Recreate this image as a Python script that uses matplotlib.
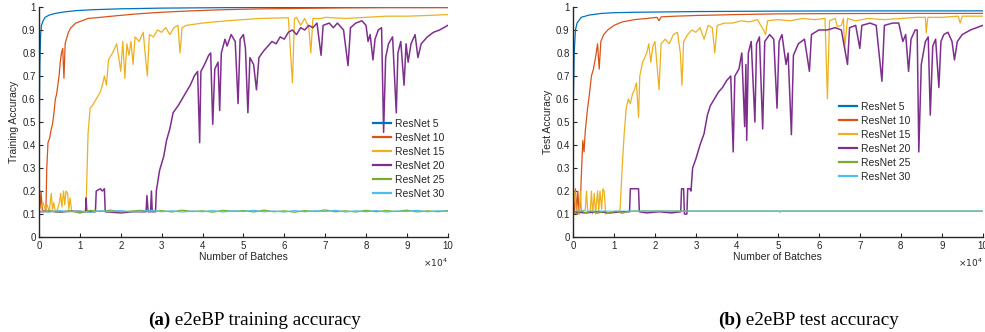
import numpy as np
import matplotlib
matplotlib.use("Agg")
import matplotlib.pyplot as plt

# x in units of 1e4 batches, y = accuracy
train_r5 = np.array([[0, 0.24], [0.01, 0.55], [0.02, 0.75], [0.04, 0.88], [0.06, 0.92], [0.1, 0.94],
                     [0.15, 0.955], [0.25, 0.965], [0.4, 0.972], [0.6, 0.978], [0.9, 0.984], [1.3, 0.988],
                     [2.0, 0.992], [3.0, 0.995], [4.5, 0.997], [6.0, 0.998], [8.0, 0.998], [10.0, 0.998]])

train_r10 = np.array([[0, 0.12], [0.03, 0.13], [0.05, 0.2], [0.08, 0.12], [0.12, 0.11], [0.17, 0.12],
                      [0.19, 0.3], [0.22, 0.41], [0.26, 0.43], [0.3, 0.47], [0.33, 0.49], [0.36, 0.53],
                      [0.4, 0.6], [0.43, 0.62], [0.46, 0.66], [0.49, 0.7], [0.52, 0.76], [0.55, 0.8],
                      [0.58, 0.82], [0.61, 0.69], [0.64, 0.84], [0.67, 0.86], [0.72, 0.89], [0.78, 0.91],
                      [0.9, 0.93], [1.05, 0.94], [1.2, 0.95], [1.5, 0.955], [1.9, 0.962], [2.4, 0.97],
                      [3.0, 0.977], [3.7, 0.983], [4.5, 0.988], [5.5, 0.992], [6.5, 0.994], [7.5, 0.996],
                      [8.5, 0.997], [10.0, 0.997]])

train_r15 = np.array([[0, 0.12], [0.1, 0.15], [0.15, 0.12], [0.2, 0.14], [0.25, 0.11], [0.3, 0.19],
                      [0.33, 0.12], [0.36, 0.15], [0.4, 0.11], [0.45, 0.12], [0.5, 0.15], [0.53, 0.19],
                      [0.56, 0.13], [0.6, 0.2], [0.63, 0.14], [0.66, 0.2], [0.7, 0.19], [0.73, 0.12],
                      [0.76, 0.17], [0.8, 0.11], [0.9, 0.11], [1.0, 0.11], [1.1, 0.11], [1.15, 0.12],
                      [1.2, 0.45], [1.25, 0.56], [1.3, 0.57], [1.4, 0.6], [1.5, 0.63], [1.55, 0.66],
                      [1.6, 0.7], [1.65, 0.66], [1.7, 0.77], [1.8, 0.8], [1.9, 0.84], [1.95, 0.78],
                      [2.0, 0.72], [2.05, 0.85], [2.1, 0.69], [2.15, 0.84], [2.2, 0.79], [2.25, 0.85],
                      [2.3, 0.75], [2.35, 0.87], [2.45, 0.85], [2.55, 0.89], [2.6, 0.79], [2.65, 0.7],
                      [2.7, 0.88], [2.8, 0.87], [2.9, 0.9], [3.0, 0.89], [3.1, 0.91], [3.2, 0.88],
                      [3.3, 0.91], [3.4, 0.92], [3.45, 0.8], [3.5, 0.91], [3.6, 0.92], [3.8, 0.925],
                      [4.0, 0.93], [4.3, 0.935], [4.6, 0.94], [5.0, 0.945], [5.4, 0.95], [5.8, 0.952],
                      [6.1, 0.953], [6.2, 0.67], [6.25, 0.95], [6.3, 0.955], [6.4, 0.92], [6.5, 0.95],
                      [6.6, 0.91], [6.65, 0.8], [6.7, 0.95], [6.9, 0.95], [7.0, 0.955], [7.5, 0.95],
                      [8.0, 0.955], [8.5, 0.96], [9.0, 0.96], [9.5, 0.963], [10.0, 0.967]])

train_r20 = np.array([[0, 0.11], [0.3, 0.112], [0.5, 0.108], [0.8, 0.113], [1.1, 0.11], [1.14, 0.11],
                      [1.15, 0.17], [1.17, 0.11], [1.38, 0.11], [1.4, 0.2], [1.5, 0.21], [1.55, 0.2],
                      [1.6, 0.21], [1.62, 0.11], [2.0, 0.105], [2.3, 0.11], [2.62, 0.11], [2.64, 0.18],
                      [2.67, 0.11], [2.73, 0.11], [2.75, 0.2], [2.77, 0.11], [2.85, 0.11], [2.87, 0.2],
                      [2.95, 0.29], [3.05, 0.35], [3.12, 0.42], [3.2, 0.47], [3.28, 0.54], [3.4, 0.57],
                      [3.5, 0.6], [3.6, 0.63], [3.7, 0.66], [3.8, 0.7], [3.88, 0.72], [3.93, 0.41],
                      [3.96, 0.72], [4.05, 0.75], [4.15, 0.79], [4.2, 0.8], [4.25, 0.49], [4.3, 0.73],
                      [4.38, 0.76], [4.42, 0.55], [4.46, 0.8], [4.55, 0.86], [4.6, 0.83], [4.7, 0.88],
                      [4.8, 0.85], [4.87, 0.58], [4.92, 0.86], [5.0, 0.88], [5.05, 0.82], [5.11, 0.54],
                      [5.16, 0.78], [5.25, 0.75], [5.32, 0.64], [5.38, 0.78], [5.5, 0.81], [5.6, 0.83],
                      [5.7, 0.85], [5.8, 0.84], [5.9, 0.87], [6.0, 0.86], [6.1, 0.89], [6.2, 0.9],
                      [6.3, 0.88], [6.4, 0.91], [6.5, 0.9], [6.6, 0.92], [6.7, 0.91], [6.8, 0.93],
                      [6.9, 0.79], [6.95, 0.92], [7.1, 0.93], [7.2, 0.91], [7.3, 0.93], [7.45, 0.9],
                      [7.56, 0.745], [7.62, 0.91], [7.75, 0.93], [7.9, 0.94], [8.0, 0.92], [8.05, 0.85],
                      [8.1, 0.88], [8.17, 0.77], [8.22, 0.86], [8.3, 0.9], [8.38, 0.91], [8.43, 0.455],
                      [8.48, 0.78], [8.55, 0.84], [8.65, 0.87], [8.74, 0.54], [8.78, 0.8], [8.85, 0.85],
                      [8.93, 0.66], [8.98, 0.84], [9.03, 0.76], [9.1, 0.84], [9.2, 0.88], [9.27, 0.78],
                      [9.35, 0.84], [9.5, 0.87], [9.65, 0.89], [9.8, 0.9], [9.9, 0.91], [10.0, 0.92]])

noise_x = [0, 0.25, 0.5, 0.75, 1.0, 1.25, 1.5, 1.75, 2.0, 2.25, 2.5, 2.75, 3.0, 3.25, 3.5, 3.75,
           4.0, 4.25, 4.5, 4.75, 5.0, 5.25, 5.5, 5.75, 6.0, 6.25, 6.5, 6.75, 7.0, 7.25, 7.5, 7.75,
           8.0, 8.25, 8.5, 8.75, 9.0, 9.25, 9.5, 9.75, 10.0]
train_r25 = [0.11, 0.114, 0.108, 0.115, 0.104, 0.116, 0.111, 0.117, 0.109, 0.113, 0.116, 0.11,
             0.115, 0.109, 0.117, 0.111, 0.114, 0.108, 0.116, 0.112, 0.115, 0.109, 0.117, 0.11,
             0.114, 0.108, 0.115, 0.111, 0.118, 0.11, 0.114, 0.109, 0.116, 0.11, 0.115, 0.111,
             0.117, 0.109, 0.114, 0.11, 0.115]
train_r30 = [0.112, 0.109, 0.115, 0.11, 0.113, 0.108, 0.114, 0.111, 0.115, 0.109, 0.112, 0.116,
             0.11, 0.114, 0.109, 0.113, 0.11, 0.115, 0.109, 0.114, 0.111, 0.116, 0.11, 0.113,
             0.109, 0.115, 0.11, 0.114, 0.111, 0.116, 0.109, 0.114, 0.11, 0.115, 0.109, 0.113,
             0.111, 0.116, 0.11, 0.114, 0.112]

test_r5 = np.array([[0, 0.3], [0.01, 0.6], [0.03, 0.8], [0.06, 0.9], [0.1, 0.93], [0.2, 0.955],
                    [0.4, 0.965], [0.7, 0.972], [1.0, 0.975], [1.5, 0.977], [2.0, 0.978], [3.0, 0.98],
                    [4.0, 0.981], [5.0, 0.982], [7.0, 0.983], [8.0, 0.983], [10.0, 0.983]])

test_r10 = np.array([[0, 0.2], [0.03, 0.1], [0.06, 0.21], [0.09, 0.11], [0.12, 0.2], [0.15, 0.1],
                     [0.18, 0.14], [0.2, 0.25], [0.24, 0.42], [0.27, 0.37], [0.3, 0.46], [0.35, 0.55],
                     [0.4, 0.62], [0.45, 0.7], [0.5, 0.73], [0.55, 0.78], [0.6, 0.84], [0.64, 0.73],
                     [0.68, 0.85], [0.75, 0.88], [0.85, 0.9], [1.0, 0.92], [1.2, 0.935], [1.5, 0.945],
                     [1.8, 0.95], [2.05, 0.955], [2.1, 0.94], [2.15, 0.957], [2.5, 0.96], [3.0, 0.963],
                     [4.0, 0.967], [5.0, 0.97], [6.0, 0.971], [8.0, 0.972], [10.0, 0.972]])

test_r15 = np.array([[0, 0.11], [0.05, 0.2], [0.08, 0.11], [0.15, 0.1], [0.18, 0.2], [0.21, 0.11],
                     [0.3, 0.12], [0.33, 0.2], [0.36, 0.11], [0.42, 0.11], [0.45, 0.2], [0.48, 0.1],
                     [0.52, 0.19], [0.55, 0.1], [0.6, 0.2], [0.63, 0.11], [0.66, 0.2], [0.7, 0.12],
                     [0.73, 0.21], [0.76, 0.2], [0.8, 0.1], [0.9, 0.11], [1.1, 0.11], [1.15, 0.12],
                     [1.2, 0.3], [1.25, 0.45], [1.3, 0.56], [1.35, 0.6], [1.4, 0.58], [1.45, 0.62],
                     [1.5, 0.64], [1.55, 0.67], [1.6, 0.52], [1.63, 0.7], [1.7, 0.76], [1.8, 0.8],
                     [1.85, 0.84], [1.9, 0.76], [1.95, 0.83], [2.0, 0.85], [2.05, 0.75], [2.1, 0.64],
                     [2.15, 0.84], [2.25, 0.86], [2.35, 0.84], [2.45, 0.88], [2.55, 0.89], [2.62, 0.8],
                     [2.66, 0.66], [2.7, 0.85], [2.8, 0.88], [2.9, 0.9], [3.0, 0.89], [3.1, 0.91],
                     [3.2, 0.86], [3.3, 0.92], [3.4, 0.91], [3.46, 0.8], [3.52, 0.92], [3.7, 0.93],
                     [3.9, 0.93], [4.1, 0.94], [4.3, 0.935], [4.5, 0.945], [4.65, 0.9], [4.7, 0.88],
                     [4.75, 0.94], [5.0, 0.945], [5.3, 0.94], [5.6, 0.95], [5.9, 0.945], [6.15, 0.95],
                     [6.21, 0.6], [6.26, 0.94], [6.4, 0.95], [6.45, 0.915], [6.55, 0.92], [6.6, 0.95],
                     [6.63, 0.82], [6.7, 0.95], [6.9, 0.94], [7.2, 0.95], [7.6, 0.945], [8.0, 0.95],
                     [8.4, 0.955], [8.6, 0.955], [8.62, 0.887], [8.66, 0.955], [9.0, 0.955], [9.4, 0.96],
                     [9.45, 0.93], [9.5, 0.96], [10.0, 0.96]])

test_r20 = np.array([[0, 0.11], [0.3, 0.105], [0.6, 0.11], [0.9, 0.105], [1.2, 0.11], [1.38, 0.11],
                     [1.4, 0.21], [1.6, 0.21], [1.62, 0.11], [1.8, 0.105], [2.1, 0.11], [2.4, 0.105],
                     [2.63, 0.11], [2.65, 0.21], [2.7, 0.21], [2.72, 0.1], [2.78, 0.1], [2.8, 0.21],
                     [2.85, 0.21], [2.88, 0.2], [2.92, 0.3], [3.0, 0.34], [3.1, 0.4], [3.2, 0.45],
                     [3.28, 0.53], [3.35, 0.57], [3.45, 0.6], [3.55, 0.63], [3.65, 0.65], [3.75, 0.68],
                     [3.85, 0.7], [3.91, 0.37], [3.95, 0.7], [4.05, 0.73], [4.12, 0.8], [4.19, 0.48],
                     [4.22, 0.75], [4.24, 0.42], [4.28, 0.8], [4.35, 0.85], [4.44, 0.5], [4.48, 0.84],
                     [4.55, 0.87], [4.63, 0.47], [4.68, 0.85], [4.8, 0.88], [4.9, 0.86], [4.98, 0.56],
                     [5.03, 0.85], [5.1, 0.88], [5.2, 0.75], [5.25, 0.8], [5.33, 0.445], [5.38, 0.79],
                     [5.5, 0.84], [5.65, 0.86], [5.77, 0.72], [5.82, 0.88], [6.0, 0.9], [6.2, 0.9],
                     [6.4, 0.91], [6.55, 0.9], [6.7, 0.75], [6.75, 0.91], [6.9, 0.92], [7.0, 0.82],
                     [7.05, 0.92], [7.25, 0.93], [7.4, 0.92], [7.54, 0.677], [7.6, 0.92], [7.8, 0.93],
                     [7.95, 0.93], [8.05, 0.85], [8.12, 0.88], [8.19, 0.72], [8.25, 0.86], [8.35, 0.9],
                     [8.4, 0.9], [8.44, 0.37], [8.5, 0.75], [8.6, 0.85], [8.67, 0.87], [8.72, 0.53],
                     [8.78, 0.83], [8.85, 0.86], [8.93, 0.65], [8.98, 0.85], [9.05, 0.88], [9.15, 0.89],
                     [9.25, 0.85], [9.31, 0.77], [9.38, 0.85], [9.5, 0.88], [9.7, 0.9], [9.85, 0.91],
                     [10.0, 0.92]])

test_r25 = np.array([[0, 0.11], [0.1, 0.1], [0.2, 0.115], [0.3, 0.105], [0.45, 0.113], [0.6, 0.103],
                     [0.75, 0.112], [0.9, 0.104], [1.05, 0.113], [1.2, 0.103], [1.35, 0.112],
                     [1.45, 0.113], [10.0, 0.113]])
test_r30 = np.array([[0, 0.113], [5.03, 0.113], [5.05, 0.106], [5.07, 0.113], [10.0, 0.113]])

labels = ["ResNet 5", "ResNet 10", "ResNet 15", "ResNet 20", "ResNet 25", "ResNet 30"]
colors = ["#0072BD", "#D95319", "#EDB120", "#7E2F8E", "#77AC30", "#4DBEEE"]

train = [train_r5, train_r10, train_r15, train_r20,
         np.column_stack([noise_x, train_r25]), np.column_stack([noise_x, train_r30])]
test = [test_r5, test_r10, test_r15, test_r20, test_r25, test_r30]

plt.rcParams['font.family'] = ['Liberation Sans', 'DejaVu Sans']
grey = '#262626'

fig = plt.figure(figsize=(9.85, 3.32), dpi=100)
ax1 = fig.add_axes([0.0396, 0.286, 0.415, 0.693])
ax2 = fig.add_axes([0.5817, 0.286, 0.416, 0.693])

for ax, data, ylab, leg_pos in [(ax1, train, "Training Accuracy", (0.817, 0.513)),
                                (ax2, test, "Test Accuracy", (0.649, 0.587))]:
    for d, c, lab in zip(data, colors, labels):
        lw = 1.1 if lab == "ResNet 20" else 0.9
        # in the test panel the flat ResNet 30 line sits on ResNet 25 and blends to teal
        a = 0.65 if (ax is ax2 and lab == "ResNet 30") else 1.0
        ax.plot(d[:, 0], d[:, 1], color=c, lw=lw, alpha=a, label=lab)
    ax.set_xlim(0, 10)
    ax.set_ylim(0, 1)
    ax.set_xticks(np.arange(0, 11, 1))
    ax.set_yticks(np.arange(0, 1.01, 0.1))
    ax.set_yticklabels(["0", "0.1", "0.2", "0.3", "0.4", "0.5", "0.6", "0.7", "0.8", "0.9", "1"])
    ax.text(1.0, -0.085, r"$\times10^{4}$", transform=ax.transAxes, ha='right', va='top',
            fontsize=6.5, color=grey)
    for s in ['top', 'right']:
        ax.spines[s].set_visible(False)
    for s in ['left', 'bottom']:
        ax.spines[s].set_color(grey)
        ax.spines[s].set_linewidth(1.0)
    ax.tick_params(direction='in', length=3, width=0.8, labelsize=7, colors=grey, pad=2.5)
    ax.set_xlabel("Number of Batches", fontsize=7.5, color=grey, labelpad=1)
    ax.set_ylabel(ylab, fontsize=7.5, color=grey, labelpad=2)
    leg = ax.legend(loc='upper left', bbox_to_anchor=leg_pos, frameon=False, fontsize=7.5,
                    borderpad=0, borderaxespad=0, handlelength=1.7, handletextpad=0.45,
                    labelspacing=0.38)
    for ln in leg.get_lines():
        ln.set_linewidth(1.6)
        ln.set_alpha(1.0)
    for t in leg.get_texts():
        t.set_color(grey)

# sub-captions
for x0, tag, rest in [(0.150, "(a)", " e2eBP training accuracy"), (0.729, "(b)", " e2eBP test accuracy")]:
    t = fig.text(x0, 0.036, tag, fontsize=13.8, fontweight='bold', family='Liberation Serif', va='center')
    plt.annotate(rest, xy=(1, 0.5), xycoords=t, va='center', ha='left',
                 fontsize=13.8, family='Liberation Serif', annotation_clip=False)

fig.savefig("out.png", dpi=100)
